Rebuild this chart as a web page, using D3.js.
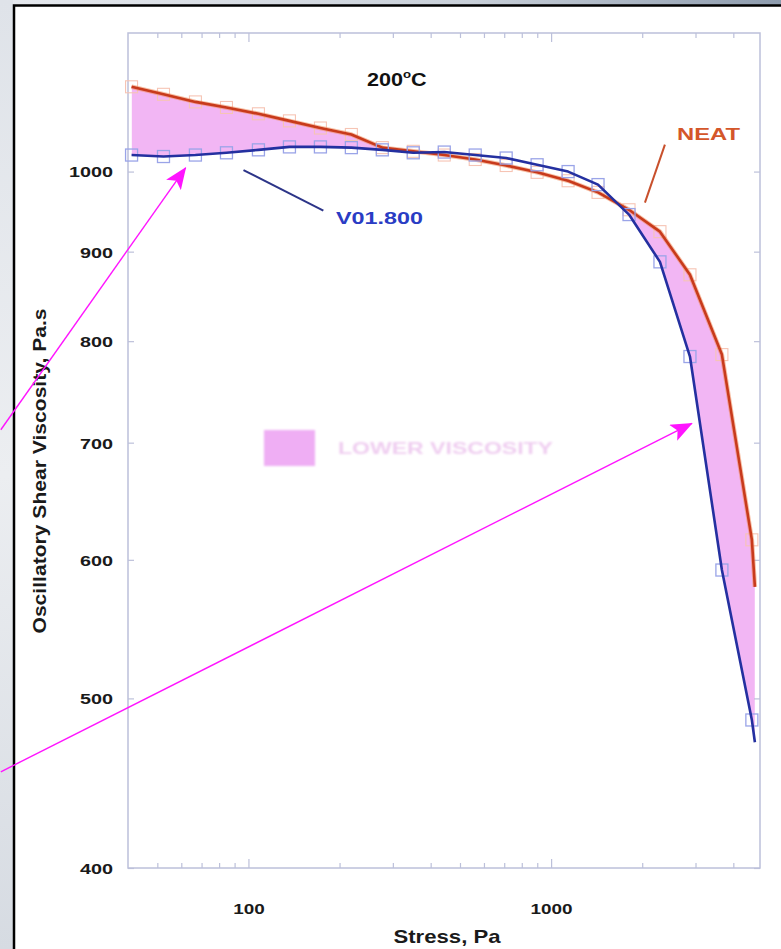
<!DOCTYPE html>
<html>
<head>
<meta charset="utf-8">
<script src="https://cdn.jsdelivr.net/npm/d3@7"></script>
<style>
  body { margin: 0; background: #fff; }
  svg { display: block; }
  text { font-family: "Liberation Sans", Arial, Helvetica, sans-serif; font-weight: bold; }
</style>
</head>
<body>
<svg id="chart" width="781" height="949"></svg>
<script>
// Oscillatory stress sweep at 200 °C: shear stress (Pa) and viscosity (Pa.s)
const stress = [41.1, 52.4, 66.8, 84.6, 107.9, 136.6, 172.9, 218.8, 276.9, 350.4, 443.6,
                561.4, 710.5, 899, 1138, 1429, 1809, 2289, 2876, 3667, 4606];
const neat   = [1118, 1107, 1096, 1088, 1079, 1069, 1059, 1050, 1032, 1027, 1022,
                1016, 1008, 999, 988, 973, 951, 924, 873, 786, 616];
const v01800 = [1022, 1020, 1022, 1025, 1029, 1033, 1033, 1032, 1029, 1025, 1026,
                1022, 1018, 1009, 1000, 983, 945, 888, 784, 592, 486];
// the drawn curves run slightly past the last measured point
const curveEndStress = 4713;
const neatCurveEnd = 579;
const v01800CurveEnd = 472;

const yTicks = [400, 500, 600, 700, 800, 900, 1000];
const xMajorTicks = [100, 1000];
const xMinorTicks = [50, 60, 70, 80, 90, 200, 300, 400, 500, 600, 700, 800, 900,
                     2000, 3000, 4000];

// annotation anchors in data units: [stress, viscosity]
const arrowLeft  = [[15.2, 712], [62, 1005]];
const arrowRight = [[15.2, 454], [2918, 718]];
const neatLeader = [[2377, 1036], [2042, 960]];
const v01Leader  = [[96.3, 1002], [176.8, 950]];

const W = 781, H = 949;
const plot = { left: 128, right: 760, top: 33, bottom: 868 };

const svg = d3.select("#chart");
const x = d3.scaleLog().domain([40, 4900]).range([plot.left, plot.right]);
const y = d3.scaleLog().domain([400, 1200]).range([plot.bottom, plot.top]);

const defs = svg.append("defs");

// surrounding page backdrop
const gTop = defs.append("linearGradient").attr("id", "topStrip");
gTop.append("stop").attr("offset", "0%").attr("stop-color", "#e6e9ee");
gTop.append("stop").attr("offset", "60%").attr("stop-color", "#c9d0d9");
gTop.append("stop").attr("offset", "100%").attr("stop-color", "#8e9cae");
const gLeft = defs.append("linearGradient").attr("id", "leftStrip")
  .attr("x1", 0).attr("y1", 0).attr("x2", 0).attr("y2", 1);
gLeft.append("stop").attr("offset", "0%").attr("stop-color", "#dfe3e9");
gLeft.append("stop").attr("offset", "50%").attr("stop-color", "#eceef1");
gLeft.append("stop").attr("offset", "100%").attr("stop-color", "#d6dbe2");

svg.append("rect").attr("x", 0).attr("y", 0).attr("width", W).attr("height", 5)
  .attr("fill", "url(#topStrip)");
svg.append("rect").attr("x", 0).attr("y", 0).attr("width", 13).attr("height", H)
  .attr("fill", "url(#leftStrip)");
svg.append("rect").attr("x", 14).attr("y", 6).attr("width", W - 14).attr("height", H - 6)
  .attr("fill", "#ffffff");
svg.append("path").attr("d", `M14,${H} V5.5 H${W}`)
  .attr("fill", "none").attr("stroke", "#000").attr("stroke-width", 2.5);

// shaded region where the modified resin is below the neat resin
const curveX = stress.concat([curveEndStress]);
const neatCurve = neat.concat([neatCurveEnd]);
const v01Curve = v01800.concat([v01800CurveEnd]);
const pairs = curveX.map((s, i) => ({ s, n: neatCurve[i], v: v01Curve[i] }));

defs.append("clipPath").attr("id", "aboveV01")
  .append("path")
  .attr("d", d3.area().x(d => x(d.s)).y0(d => y(d.v)).y1(plot.top)(pairs));

svg.append("path")
  .attr("clip-path", "url(#aboveV01)")
  .attr("d", d3.area().x(d => x(d.s)).y0(d => y(d.v)).y1(d => y(d.n))(pairs))
  .attr("fill", "#f2b6f4");

// frame and ticks
const axisColor = "#bcc0da";
svg.append("rect")
  .attr("x", plot.left).attr("y", plot.top)
  .attr("width", plot.right - plot.left).attr("height", plot.bottom - plot.top)
  .attr("fill", "none").attr("stroke", axisColor).attr("stroke-width", 1.5);

function styleAxis(g) {
  g.select(".domain").remove();
  g.selectAll(".tick line").attr("stroke", axisColor).attr("stroke-width", 1.2);
}

svg.append("g").attr("transform", `translate(0,${plot.bottom})`)
  .call(d3.axisBottom(x).tickValues(xMinorTicks).tickSize(-5).tickFormat(""))
  .call(styleAxis);
svg.append("g").attr("transform", `translate(0,${plot.bottom})`)
  .call(d3.axisBottom(x).tickValues(xMajorTicks).tickSize(-9).tickFormat(""))
  .call(styleAxis);
svg.append("g").attr("transform", `translate(0,${plot.top})`)
  .call(d3.axisTop(x).tickValues(xMinorTicks).tickSize(-5).tickFormat(""))
  .call(styleAxis);
svg.append("g").attr("transform", `translate(0,${plot.top})`)
  .call(d3.axisTop(x).tickValues(xMajorTicks).tickSize(-9).tickFormat(""))
  .call(styleAxis);
svg.append("g").attr("transform", `translate(${plot.right},0)`)
  .call(d3.axisRight(y).tickValues(yTicks).tickSize(-6).tickFormat(""))
  .call(styleAxis);

const yAxis = svg.append("g").attr("transform", `translate(${plot.left},0)`)
  .call(d3.axisLeft(y).tickValues(yTicks).tickSize(-6).tickPadding(15).tickFormat(d3.format("d")))
  .call(styleAxis);
yAxis.selectAll(".tick text")
  .attr("font-size", 15).attr("fill", "#1a1a1a").attr("dy", "0.36em")
  .style("font-family", '"Liberation Sans", Arial, sans-serif').style("font-weight", "bold")
  .attr("textLength", d => String(d).length * 11).attr("lengthAdjust", "spacingAndGlyphs");

const xLabels = svg.append("g").attr("transform", `translate(0,${plot.bottom})`)
  .call(d3.axisBottom(x).tickValues(xMajorTicks).tickSize(0).tickPadding(35).tickFormat(d3.format("d")))
  .call(styleAxis);
xLabels.selectAll(".tick text")
  .attr("font-size", 15).attr("fill", "#1a1a1a")
  .style("font-family", '"Liberation Sans", Arial, sans-serif').style("font-weight", "bold")
  .attr("textLength", d => String(d).length * 10.5).attr("lengthAdjust", "spacingAndGlyphs");

// axis titles
svg.append("text").attr("x", 447).attr("y", 943).attr("text-anchor", "middle")
  .attr("font-size", 19).attr("fill", "#1a1a1a")
  .attr("textLength", 107).attr("lengthAdjust", "spacingAndGlyphs")
  .text("Stress, Pa");
svg.append("text").attr("transform", "translate(46,471) rotate(-90)")
  .attr("text-anchor", "middle").attr("font-size", 18).attr("fill", "#1a1a1a")
  .attr("textLength", 325).attr("lengthAdjust", "spacingAndGlyphs")
  .text("Oscillatory Shear Viscosity, Pa.s");

// curves
const line = d3.line().x(d => x(d[0])).y(d => y(d[1]));
const neatPts = curveX.map((s, i) => [s, neatCurve[i]]);
const v01Pts = curveX.map((s, i) => [s, v01Curve[i]]);

// measured points (neat points sit mostly under their curve)
svg.append("g").selectAll("rect").data(stress.map((s, i) => [s, neat[i]])).join("rect")
  .attr("x", d => x(d[0]) - 6).attr("y", d => y(d[1]) - 6)
  .attr("width", 12).attr("height", 12)
  .attr("fill", "none").attr("stroke", "#f6c4b4").attr("stroke-width", 1.1);

svg.append("path").attr("d", line(neatPts))
  .attr("fill", "none").attr("stroke", "#f08a5a").attr("stroke-width", 4.5)
  .attr("stroke-linejoin", "round").attr("opacity", 0.55);
svg.append("path").attr("d", line(neatPts))
  .attr("fill", "none").attr("stroke", "#c83a1c").attr("stroke-width", 2.6)
  .attr("stroke-linejoin", "round");

svg.append("g").selectAll("rect").data(stress.map((s, i) => [s, v01800[i]])).join("rect")
  .attr("x", d => x(d[0]) - 6).attr("y", d => y(d[1]) - 6)
  .attr("width", 12).attr("height", 12)
  .attr("fill", "none").attr("stroke", "#9aa4e8").attr("stroke-width", 1.3);

svg.append("path").attr("d", line(v01Pts))
  .attr("fill", "none").attr("stroke", "#2430a0").attr("stroke-width", 2.6)
  .attr("stroke-linejoin", "round");

// series labels with leader lines
svg.append("path").attr("d", line(neatLeader))
  .attr("stroke", "#c8502c").attr("stroke-width", 2).attr("fill", "none");
svg.append("text").attr("x", 677).attr("y", 140)
  .attr("font-size", 17).attr("fill", "#d4562a")
  .attr("textLength", 63).attr("lengthAdjust", "spacingAndGlyphs")
  .text("NEAT");

svg.append("path").attr("d", line(v01Leader))
  .attr("stroke", "#2c3488").attr("stroke-width", 2).attr("fill", "none");
svg.append("text").attr("x", 336).attr("y", 224)
  .attr("font-size", 17).attr("fill", "#2a3cc4")
  .attr("textLength", 87).attr("lengthAdjust", "spacingAndGlyphs")
  .text("V01.800");

// temperature
const temp = svg.append("text").attr("transform", "translate(367,86) scale(1.2,1)")
  .attr("font-size", 18).attr("fill", "#111");
temp.append("tspan").text("200");
temp.append("tspan").attr("font-size", 11).attr("dy", -8).text("o");
temp.append("tspan").attr("dy", 8).text("C");

// legend for the shaded region (faded)
defs.append("filter").attr("id", "soft").append("feGaussianBlur").attr("stdDeviation", 0.9);
const legend = svg.append("g").attr("filter", "url(#soft)");
legend.append("rect").attr("x", 264).attr("y", 430).attr("width", 51).attr("height", 36)
  .attr("fill", "#efaef4");
legend.append("text").attr("x", 338).attr("y", 454)
  .attr("font-size", 17).attr("fill", "#efcdf0")
  .attr("textLength", 215).attr("lengthAdjust", "spacingAndGlyphs")
  .text("LOWER VISCOSITY");

// pointer arrows
defs.append("marker").attr("id", "head")
  .attr("viewBox", "0 0 22 18").attr("refX", 21).attr("refY", 9)
  .attr("markerWidth", 22).attr("markerHeight", 18)
  .attr("markerUnits", "userSpaceOnUse").attr("orient", "auto")
  .append("path").attr("d", "M0,0 L22,9 L0,18 L5,9 Z").attr("fill", "#ff14ff");

[arrowLeft, arrowRight].forEach(a => {
  svg.append("path").attr("d", line(a))
    .attr("stroke", "#ff14ff").attr("stroke-width", 1.4).attr("fill", "none")
    .attr("marker-end", "url(#head)");
});
</script>
</body>
</html>
